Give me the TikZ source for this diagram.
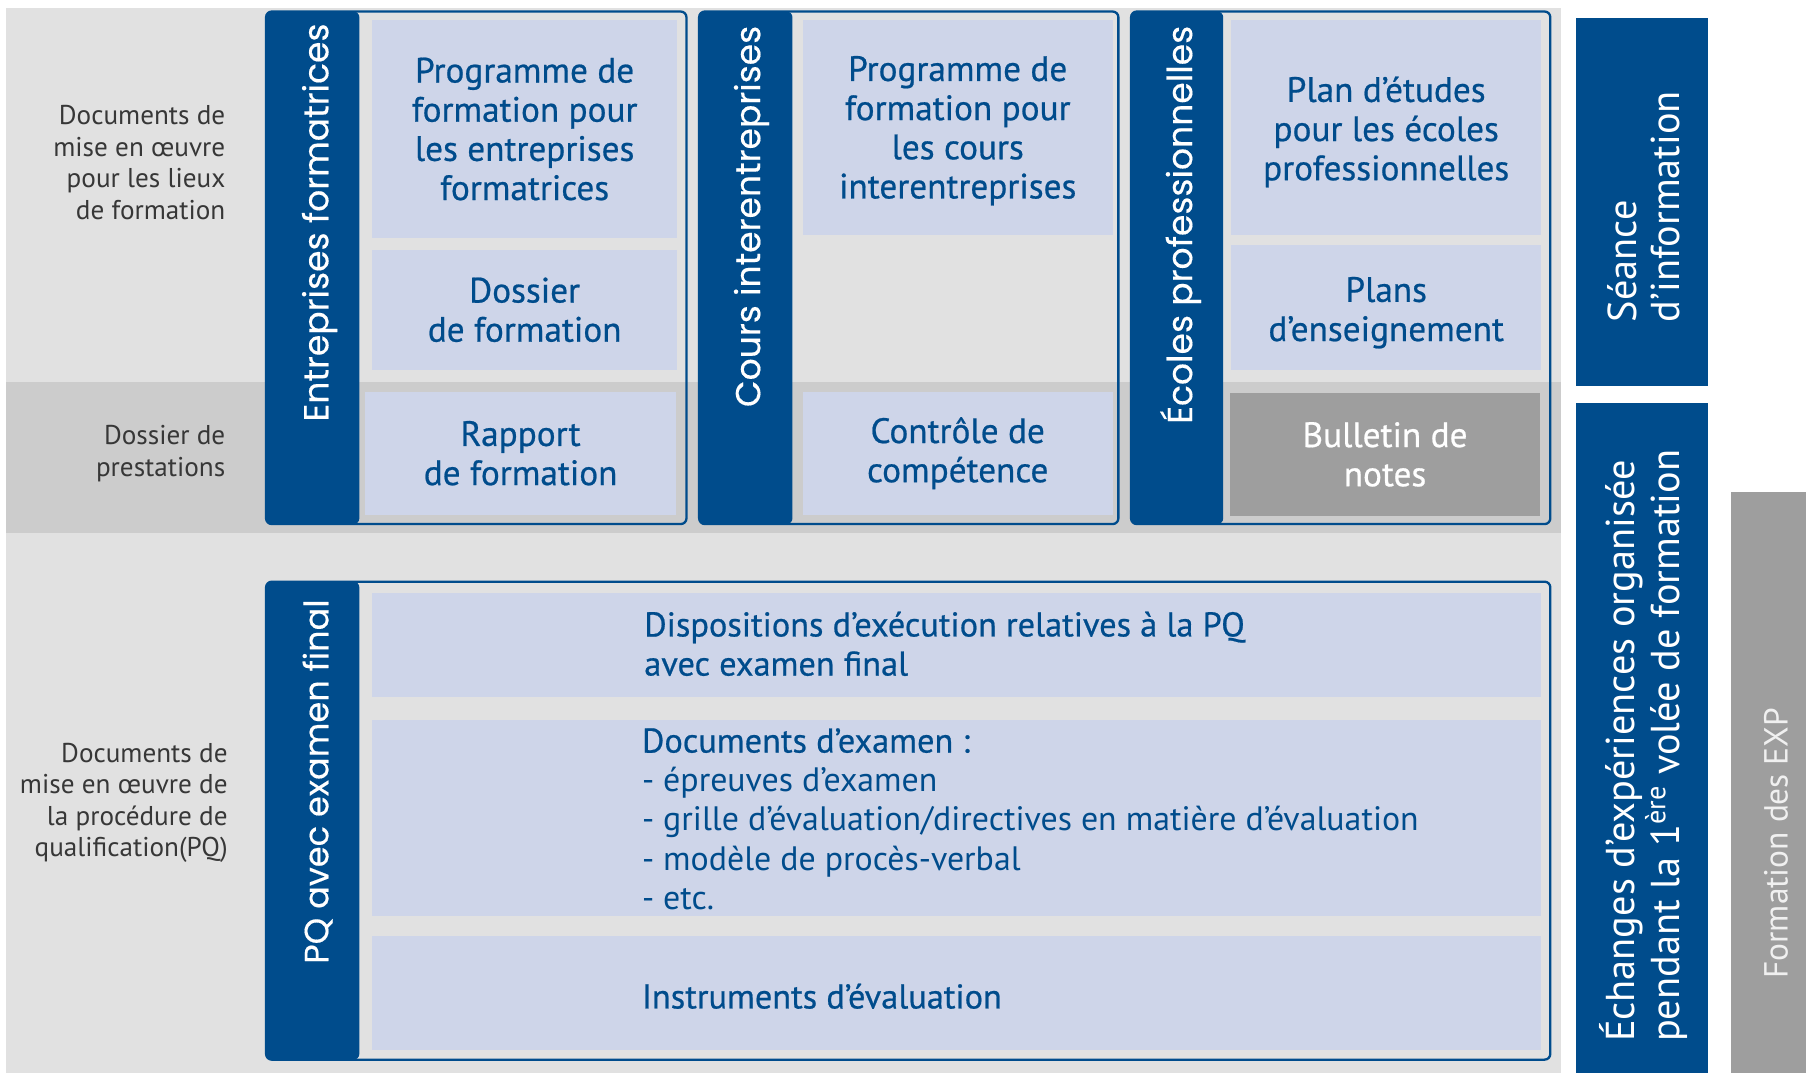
\documentclass[tikz,border=0pt]{standalone}
\usepackage{fontspec}
\setmainfont{PT Sans}
\newfontfamily\geo[FakeBold=0.35]{Poppins}
\newfontfamily\med[FakeBold=0.6]{PT Sans}
\definecolor{dblue}{RGB}{0,76,140}
\definecolor{cellc}{RGB}{206,213,233}
\definecolor{bgA}{RGB}{225,225,225}
\definecolor{bgB}{RGB}{204,204,204}
\definecolor{grayc}{RGB}{158,158,158}
\definecolor{labc}{RGB}{55,55,55}
\definecolor{exptxt}{RGB}{240,240,240}
\tikzset{
  cellbox/.style={inner sep=0pt, fill=cellc, text=dblue, align=center,
    font={\med\fontsize{15.3}{17}\selectfont}},
  graycell/.style={cellbox, fill=grayc, text=white},
  celltxt/.style={inner sep=0pt, text=dblue, align=left,
    font={\med\fontsize{14.9}{17}\selectfont}},
  ctrtxt/.style={inner sep=0pt, text=dblue, align=center,
    font={\med\fontsize{15.3}{17}\selectfont}},
  sidelab/.style={inner sep=0pt, text=labc, align=right, anchor=east,
    font={\fontsize{11.8}{13.7}\selectfont}},
  barlab/.style={inner sep=0pt, text=white, rotate=90, anchor=base east,
    font={\geo\fontsize{15}{18}\selectfont}},
  frame/.style={draw=dblue, line width=1pt, rounded corners=2.5pt},
  barfill/.style={fill=dblue, rounded corners=2.5pt},
  rightlab/.style={inner sep=0pt, text=white, rotate=90, anchor=west, align=left,
    font={\fontsize{17.5}{18.5}\selectfont}}
}
\begin{document}
\begin{tikzpicture}[x=0.5pt,y=-0.5pt]
\useasboundingbox (0,0) rectangle (1568,932);
\fill[white] (0,0) rectangle (1568,932);
% backgrounds
\fill[bgA] (5,7) rectangle (1355,932);
\fill[bgB] (5,332) rectangle (1355,463);

% left labels
\node[sidelab] (lab1) at (196,141) {Documents de\\mise en œuvre\\pour les lieux\\de formation};
\node[sidelab] (lab2) at (196,394) {Dossier de\\prestations};
\node[sidelab] (lab3) at (198,697) {Documents de\\mise en œuvre de\\la procédure de\\qualification(PQ)};

% box 1
\fill[barfill] (231,10) rectangle (312,455);
\draw[frame] (231,10) rectangle (596,455);
\node[barlab] (bar1) at (285,20) {Entreprises formatrices};
\node[cellbox, minimum width=132.5pt, minimum height=95pt] (c1a) at (455.5,112)
  {Programme de\\formation pour\\les entreprises\\formatrices};
\node[cellbox, minimum width=132.5pt, minimum height=52pt] (c1b) at (455.5,269)
  {Dossier\\de formation};
\node[cellbox, minimum width=135pt, minimum height=53.5pt] (c1c) at (452,393.5)
  {Rapport\\de formation};

% box 2
\fill[barfill] (607,10) rectangle (688,455);
\draw[frame] (607,10) rectangle (971,455);
\node[barlab] (bar2) at (660,22) {Cours interentreprises};
\node[cellbox, minimum width=134.5pt, minimum height=93.5pt] (c2a) at (831.5,110.5) {};
\node[ctrtxt] (c2at) at (831.5,113.5)
  {Programme de\\formation pour\\les cours\\interentreprises};
\node[cellbox, minimum width=134.5pt, minimum height=53.5pt] (c2c) at (831.5,393.5)
  {Contrôle de\\compétence};

% box 3
\fill[barfill] (982,10) rectangle (1062,455);
\draw[frame] (982,10) rectangle (1346,455);
\node[barlab] (bar3) at (1035,22) {Écoles professionnelles};
\node[cellbox, minimum width=134.5pt, minimum height=93.5pt] (c3a) at (1203.5,110.5) {};
\node[ctrtxt] (c3at) at (1203.5,114.5)
  {Plan d’études\\pour les écoles\\professionnelles};
\node[cellbox, minimum width=134.5pt, minimum height=54pt] (c3b) at (1203.5,267) {};
\node[ctrtxt] (c3bt) at (1203.5,271.5) {Plans\\d’enseignement};
\node[graycell, minimum width=134.5pt, minimum height=53.5pt] (c3c) at (1202.5,394.5)
  {Bulletin de\\notes};

% bottom box
\fill[barfill] (231,505) rectangle (312,920);
\draw[frame] (231,505) rectangle (1346,920);
\node[barlab, font={\geo\fontsize{14.6}{18}\selectfont}] (bar4) at (285,520) {PQ avec examen final};
\node[cellbox, minimum width=507.5pt, minimum height=45pt] (d1) at (830.5,560) {};
\node[cellbox, minimum width=507.5pt, minimum height=85pt] (d2) at (830.5,710) {};
\node[cellbox, minimum width=507.5pt, minimum height=49.5pt] (d3) at (830.5,862.5) {};
\node[celltxt, anchor=west] (t1) at (559,559) {Dispositions d’exécution relatives à la PQ\\avec examen final};
\node[celltxt, anchor=west] (t2) at (557,711) {Documents d’examen :\\
  {\fontspec{PT Sans}\fontsize{14.7}{17}\selectfont- épreuves d’examen}\\
  {\fontspec{PT Sans}\fontsize{14.7}{17}\selectfont- grille d’évaluation/directives en matière d’évaluation}\\
  {\fontspec{PT Sans}\fontsize{14.7}{17}\selectfont- modèle de procès-verbal}\\
  {\fontspec{PT Sans}\fontsize{14.7}{17}\selectfont- etc.}};
\node[celltxt, anchor=west] (t3) at (557,865) {Instruments d’évaluation};

% right column
\fill[dblue] (1368,16) rectangle (1483,335);
\node[rightlab] (seance) at (1427,280) {Séance\\d’information};
\fill[dblue] (1368,350) rectangle (1483,932);
\node[rightlab] (echanges) at (1427,905) {Échanges d’expériences organisée\\pendant la 1\textsuperscript{ère} volée de formation};
\fill[grayc] (1503,427) rectangle (1568,932);
\node[rightlab, text=exptxt, font={\fontsize{14.5}{17}\selectfont}] (expf) at (1542,850) {Formation des EXP};
\end{tikzpicture}
\end{document}
